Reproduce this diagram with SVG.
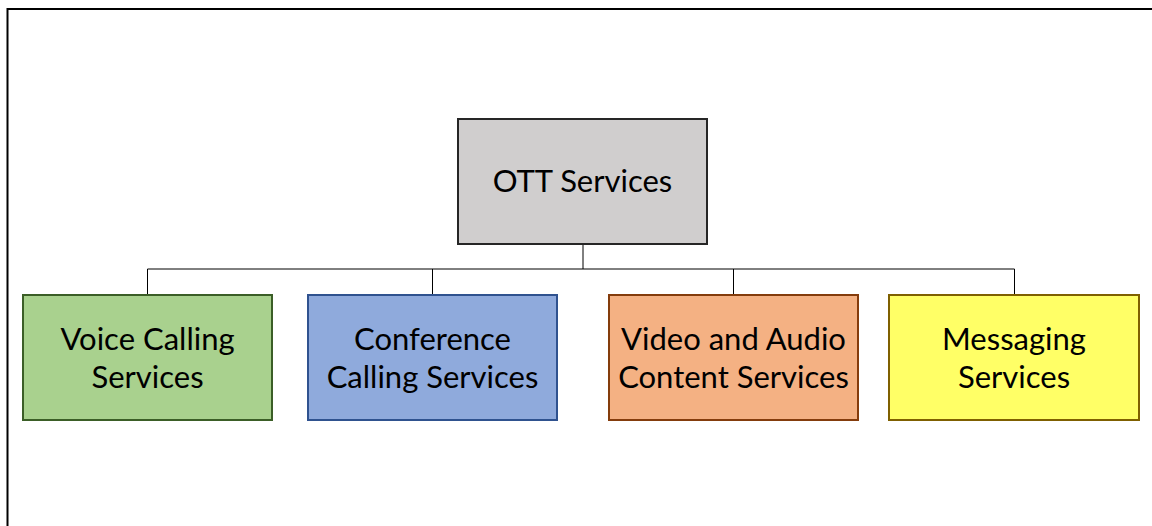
<svg xmlns="http://www.w3.org/2000/svg" width="1152" height="526" viewBox="0 0 1152 526">
<style>
text{font-family:Lato,"Liberation Sans",sans-serif;font-size:31px;fill:#000;text-anchor:middle}
.box{stroke-width:2}
.conn{stroke:#000;stroke-width:1;fill:none}
</style>
<rect x="0" y="0" width="1152" height="526" fill="#fff"/>
<rect x="7.5" y="9" width="1160" height="530" fill="none" stroke="#000" stroke-width="2"/>
<g id="connectors">
<path class="conn" d="M583 244V269M147.5 269H1014.5M147.5 269V295M432.5 269V295M733.5 269V295M1014.5 269V295"/>
</g>
<g id="ott">
<rect class="box" x="458" y="119" width="249" height="125" fill="#d0cece" stroke="#262626"/>
<text x="582.5" y="192">OTT Services</text>
</g>
<g id="voice">
<rect class="box" x="23" y="295" width="249" height="125" fill="#a9d18e" stroke="#3b5e27"/>
<text x="147.5" y="350">Voice Calling</text>
<text x="147.5" y="388">Services</text>
</g>
<g id="conference">
<rect class="box" x="308" y="295" width="249" height="125" fill="#8faadc" stroke="#2f528f"/>
<text x="432.5" y="350">Conference</text>
<text x="432.5" y="388">Calling Services</text>
</g>
<g id="video">
<rect class="box" x="609" y="295" width="249" height="125" fill="#f4b183" stroke="#843c0c"/>
<text x="733.5" y="350">Video and Audio</text>
<text x="733.5" y="388">Content Services</text>
</g>
<g id="messaging">
<rect class="box" x="889" y="295" width="250" height="125" fill="#ffff66" stroke="#7f6000"/>
<text x="1014" y="350">Messaging</text>
<text x="1014" y="388">Services</text>
</g>
</svg>
